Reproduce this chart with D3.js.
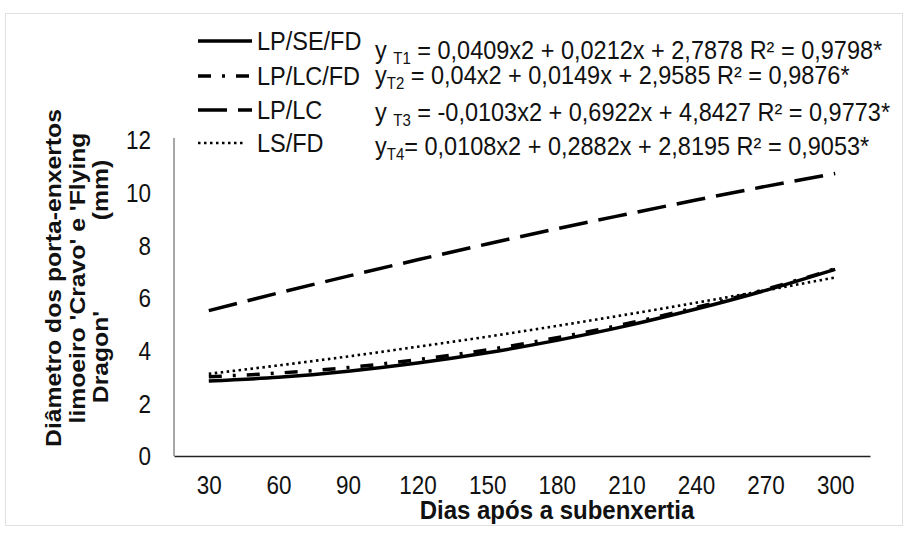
<!DOCTYPE html>
<html>
<head>
<meta charset="utf-8">
<script src="https://cdn.jsdelivr.net/npm/d3@7"></script>
<style>
  body { margin: 0; background: #fff; }
  text { font-family: "Liberation Sans", Arial, sans-serif; fill: #111; }
</style>
</head>
<body>
<div id="chart"></div>
<script>
// days after grafting (x categories)
const days = [30, 60, 90, 120, 150, 180, 210, 240, 270, 300];
// diameter (mm) at each day
const lpSeFd = [2.85, 2.99, 3.22, 3.53, 3.92, 4.39, 4.94, 5.58, 6.29, 7.09];
const lpLcFd = [3.01, 3.15, 3.36, 3.66, 4.03, 4.49, 5.02, 5.64, 6.33, 7.11];
const lpLc   = [5.52, 6.19, 6.83, 7.45, 8.05, 8.63, 9.18, 9.72, 10.24, 10.73];
const lsFd   = [3.12, 3.44, 3.78, 4.15, 4.53, 4.94, 5.37, 5.82, 6.29, 6.78];
const yTicks = [0, 2, 4, 6, 8, 10, 12];
const seriesNames = ["LP/SE/FD", "LP/LC/FD", "LP/LC", "LS/FD"];
const equations = [
  ["y ", "T1", " = 0,0409x2 + 0,0212x + 2,7878 R² = 0,9798*"],
  ["y", "T2", " = 0,04x2 + 0,0149x + 2,9585 R² = 0,9876*"],
  ["y ", "T3", " = -0,0103x2 + 0,6922x + 4,8427 R² = 0,9773*"],
  ["y", "T4", "= 0,0108x2 + 0,2882x + 2,8195 R² = 0,9053*"]
];

const width = 907, height = 533;
const stretch = 1.12; // the picture is a bit taller than wide

const series = [
  { name: seriesNames[0], values: lpSeFd, dash: null, w: 3.5 },
  { name: seriesNames[1], values: lpLcFd, dash: "13,11,3,11", w: 3.5 },
  { name: seriesNames[2], values: lpLc, dash: "29,11", w: 3.5 },
  { name: seriesNames[3], values: lsFd, dash: "2.5,3.5", w: 2.6 }
];

const svg = d3.select("#chart").append("svg")
  .attr("width", width)
  .attr("height", height);

// faint frame
svg.append("rect")
  .attr("x", 5.5).attr("y", 13.5)
  .attr("width", 897).attr("height", 512)
  .attr("fill", "none").attr("stroke", "#e0e0e0");

const x = d3.scalePoint()
  .domain(days)
  .range([174, 870])
  .padding(0.5);

const y = d3.scaleLinear()
  .domain([0, 12])
  .range([456, 140]);

// y axis
const gy = svg.append("g")
  .attr("transform", "translate(174,0)")
  .call(d3.axisLeft(y).tickValues(yTicks).tickSize(0).tickPadding(0));
gy.select(".domain").attr("stroke", "#8a8a8a").attr("stroke-width", 1.5)
  .attr("d", `M0,${y(12) - 2}V${y(0)}`);
gy.selectAll("text")
  .attr("x", null).attr("dy", null)
  .attr("transform", `translate(-23,${0.36 * 22 * stretch}) scale(1,${stretch})`)
  .attr("font-size", 22.5).attr("fill", "#222");

// x axis
const gx = svg.append("g")
  .attr("transform", `translate(0,${y(0)})`)
  .call(d3.axisBottom(x).tickSize(0));
gx.select(".domain").attr("stroke", "#222").attr("stroke-width", 1.5);
gx.selectAll("text")
  .attr("y", null).attr("dy", null)
  .attr("transform", `translate(0,38) scale(1,${stretch})`)
  .attr("font-size", 22.5).attr("fill", "#222");

// curves
const line = d3.line()
  .x((d, i) => x(days[i]))
  .y(d => y(d))
  .curve(d3.curveMonotoneX);

svg.append("g").selectAll("path")
  .data(series)
  .join("path")
  .attr("d", d => line(d.values))
  .attr("fill", "none")
  .attr("stroke", "#000")
  .attr("stroke-width", d => d.w)
  .attr("stroke-dasharray", d => d.dash);

// legend
const rowY = [41, 76, 110, 143];
const leg = svg.append("g").selectAll("g")
  .data(series)
  .join("g")
  .attr("transform", (d, i) => `translate(0,${rowY[i]})`);

leg.append("line")
  .attr("x1", 198).attr("x2", (d, i) => i === 3 ? 244 : 252)
  .attr("stroke", "#000")
  .attr("stroke-width", d => d.w)
  .attr("stroke-dasharray", d => d.dash);

leg.append("text")
  .attr("transform", `translate(257,${0.36 * 23.5 * 1.08}) scale(1,1.08)`)
  .attr("font-size", 23.5)
  .text(d => d.name);

// trendline equations
const eqBase = [59, 84, 121, 155];
const eq = svg.append("g").selectAll("text")
  .data(equations)
  .join("text")
  .attr("transform", (d, i) => `translate(375,${eqBase[i]}) scale(1,1.06)`)
  .attr("font-size", 23.5);
eq.append("tspan").text(d => d[0]);
eq.append("tspan").attr("font-size", 15).attr("dy", 5).text(d => d[1]);
eq.append("tspan").attr("dy", -5).text(d => d[2]);

// axis titles
svg.append("text")
  .attr("transform", "translate(557,519) scale(1,1.04)")
  .attr("text-anchor", "middle")
  .attr("font-size", 24)
  .attr("font-weight", "bold")
  .text("Dias após a subenxertia");

const yTitle = svg.append("g")
  .attr("font-size", 21.5)
  .attr("font-weight", "bold");
const yLines = [
  { t: "Diâmetro dos porta-enxertos", x: 53, y: 278 },
  { t: "limoeiro 'Cravo' e 'Flying", x: 77, y: 278 },
  { t: "Dragon'", x: 100, y: 357 },
  { t: "(mm)", x: 100, y: 190 }
];
yTitle.selectAll("text")
  .data(yLines)
  .join("text")
  .attr("transform", d => `translate(${d.x + 7.5},${d.y}) scale(1,1.15) rotate(-90)`)
  .attr("text-anchor", "middle")
  .text(d => d.t);
</script>
</body>
</html>
